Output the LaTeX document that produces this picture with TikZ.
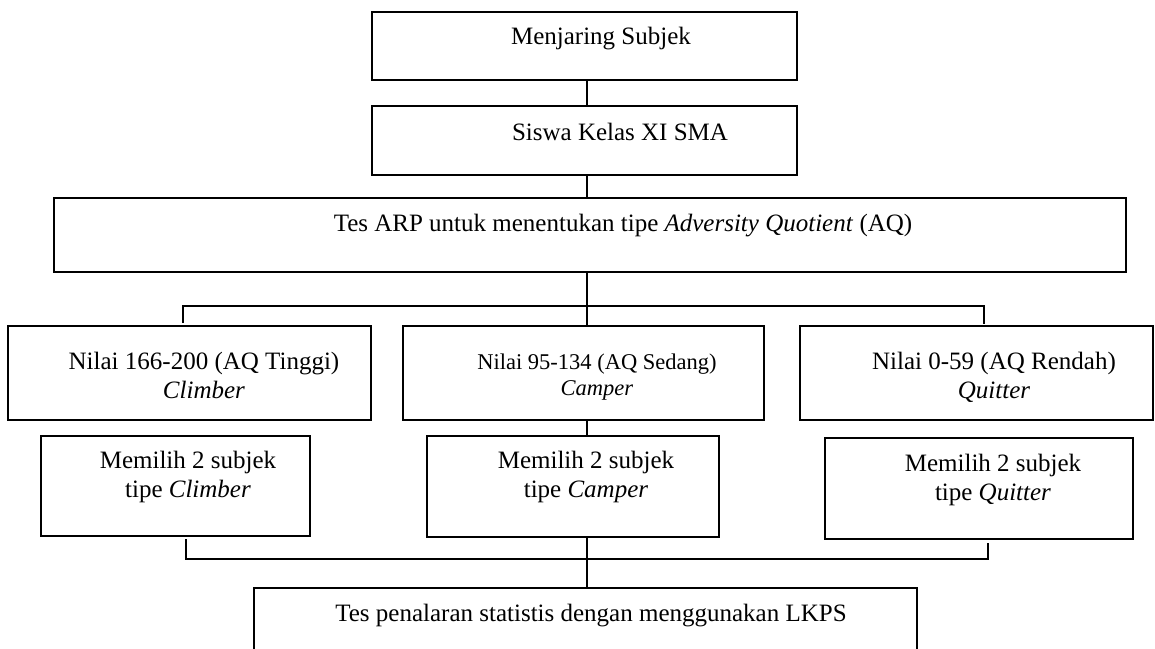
\documentclass[tikz,border=0pt]{standalone}
\usepackage{fontspec}
\setmainfont{Liberation Serif}
\begin{document}
\begin{tikzpicture}[x=1pt,y=-1pt,
  box/.style={draw,line width=1.6pt,inner sep=0pt,rectangle},
  link/.style={line width=1.6pt},
  txt/.style={anchor=base,inner sep=0pt,align=center,font=\fontsize{25}{29}\selectfont},
  txtsmall/.style={anchor=base,inner sep=0pt,align=center,font=\fontsize{22.5}{26}\selectfont}]
\useasboundingbox (0,0) rectangle (1155,648);
\clip (0,0) rectangle (1155,648);

% boxes
\node[box,minimum width=425pt,minimum height=68pt]  (box1)   at (584.5,46)  {};
\node[box,minimum width=425pt,minimum height=69pt]  (box2)   at (584.5,140.5) {};
\node[box,minimum width=1072pt,minimum height=74pt] (box3)   at (590,235)   {};
\node[box,minimum width=363pt,minimum height=94pt]  (climb)  at (189.5,373) {};
\node[box,minimum width=361pt,minimum height=94pt]  (camp)   at (583.5,373) {};
\node[box,minimum width=353pt,minimum height=94pt]  (quit)   at (976.5,373) {};
\node[box,minimum width=269pt,minimum height=100pt] (climbB) at (175.5,486) {};
\node[box,minimum width=292pt,minimum height=101pt] (campB)  at (573,486.5) {};
\node[box,minimum width=308pt,minimum height=101pt] (quitB)  at (979,488.5) {};
\node[box,minimum width=663pt,minimum height=112pt] (final)  at (585.5,644) {};

% texts (a two-line node sits on the baseline of its last line)
\node[txt] (t1) at (601,44) {Menjaring Subjek};
\node[txt] (t2) at (620,140) {Siswa Kelas XI SMA};
\node[txt] (t3) at (623,231) {Tes ARP untuk menentukan tipe \textit{Adversity Quotient} (AQ)};
\node[txt] (tclimb) at (204,398) {Nilai 166-200 (AQ Tinggi)\\\textit{Climber}};
\node[txtsmall] (tcamp) at (597,395) {Nilai 95-134 (AQ Sedang)\\\textit{Camper}};
\node[txt] (tquit) at (994,398) {Nilai 0-59 (AQ Rendah)\\\textit{Quitter}};
\node[txt] (tclimbB) at (188,497) {Memilih 2 subjek\\tipe \textit{Climber}};
\node[txt] (tcampB) at (586,497) {Memilih 2 subjek\\tipe \textit{Camper}};
\node[txt] (tquitB) at (993,500) {Memilih 2 subjek\\tipe \textit{Quitter}};
\node[txt] (tfinal) at (591,621) {Tes penalaran statistis dengan menggunakan LKPS};

% connectors
\coordinate (cx) at (587,0);
\draw[link] (box1.south -| cx) -- (box2.north -| cx);
\draw[link] (box2.south -| cx) -- (box3.north -| cx);
\draw[link] (box3.south -| cx) -- (camp.north -| cx);
\draw[link] (camp.south -| cx) -- (campB.north -| cx);
\draw[link] (campB.south -| cx) -- (final.north -| cx);

\coordinate (tl) at (183,306);
\coordinate (tr) at (984,306);
\coordinate (tlend) at (183,323);
\coordinate (trend) at (984,324);
\draw[link] (tlend) -- (tl) -- (tr) -- (trend);

\coordinate (bl) at (186,559);
\coordinate (br) at (988,559);
\coordinate (blstart) at (186,539);
\coordinate (brstart) at (988,543);
\draw[link] (blstart) -- (bl) -- (br) -- (brstart);
\end{tikzpicture}
\end{document}
